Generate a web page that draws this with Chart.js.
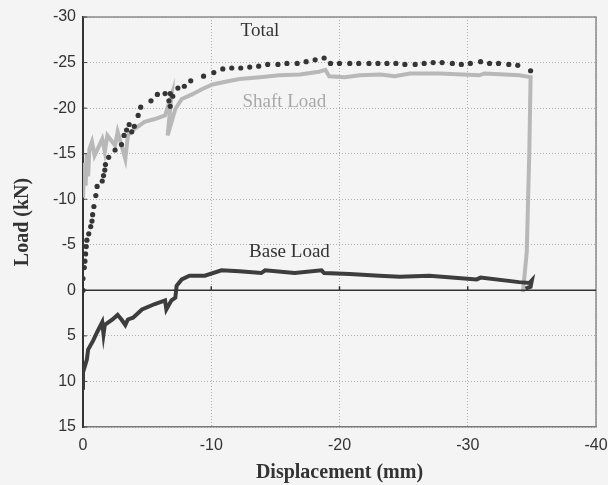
<!DOCTYPE html>
<html lang="en">
<head>
<meta charset="utf-8">
<title>Load vs displacement</title>
<script src="https://cdn.jsdelivr.net/npm/chart.js@4"></script>
<style>
  html, body { margin: 0; padding: 0; background: #f4f4f4; }
  #wrap { width: 608px; height: 485px; }
</style>
</head>
<body>
<div id="wrap"><canvas id="chartLoad"></canvas></div>
<script>
// displacement (mm) / load (kN)
const totalX = [0, 0, -0.1, -0.15, -0.2, -0.25, -0.3, -0.45, -0.6, -0.7, -0.75, -0.85, -1.0, -1.1, -1.5, -1.6, -1.7, -1.75, -2.0, -2.5,
  -3.0, -3.2, -3.4, -3.6, -3.8, -4.0, -4.3, -4.5, -5.3, -5.8, -6.4, -6.8, -6.7, -6.8, -7.0, -7.4, -7.9, -8.4, -9.4, -10.2,
  -10.9, -11.6, -12.3, -13.0, -13.7, -14.4, -15.2, -15.9, -16.7, -17.4, -18.1, -18.8, -19.3, -20.0, -20.8, -21.5, -22.3, -23.0, -23.7, -24.4,
  -25.1, -25.9, -26.6, -27.3, -28.0, -28.8, -29.5, -30.2, -31.0, -31.7, -32.4, -33.2, -33.9, -34.9];
const totalY = [0, -1.3, -2.5, -3.2, -4.0, -4.8, -5.5, -6.2, -7.0, -7.6, -8.3, -9.2, -10.4, -11.4, -12.0, -12.6, -13.2, -13.8, -14.6, -15.4,
  -16.0, -17.0, -17.6, -18.2, -17.4, -18.0, -19.2, -20.1, -20.8, -21.5, -21.6, -21.6, -20.8, -20.2, -21.3, -22.2, -22.4, -23.0, -23.5, -23.9,
  -24.3, -24.4, -24.4, -24.5, -24.6, -24.8, -24.8, -24.9, -24.9, -25.1, -25.3, -25.5, -24.9, -24.9, -24.9, -24.9, -24.9, -24.9, -24.9, -24.9,
  -24.8, -24.8, -24.9, -25.0, -25.0, -24.9, -24.8, -24.9, -25.1, -24.9, -24.9, -24.8, -24.7, -24.1];

const shaftX = [0, -0.1, -0.2, -0.3, -0.4, -0.5, -0.7, -0.9, -1.5, -1.7, -1.9, -2.5, -2.7, -3.3, -3.5, -4.0, -4.8, -5.6, -6.4, -6.9,
  -6.6, -7.2, -7.7, -8.5, -9.3, -10.1, -11.1, -12.2, -13.8, -15.3, -16.9, -18.4, -18.9, -19.2, -20.4, -21.6, -23.2, -24.3, -25.5, -27.8,
  -30.9, -31.3, -34.0, -34.9, -34.8, -34.6, -34.3];
const shaftY = [-10.2, -14.0, -11.5, -15.0, -12.5, -15.5, -16.3, -14.8, -16.6, -15.2, -17.0, -15.9, -17.4, -14.4, -17.0, -17.7, -18.5, -18.8, -19.2, -21.4,
  -17.0, -19.9, -21.0, -21.5, -22.1, -22.6, -22.9, -23.2, -23.4, -23.6, -23.7, -24.0, -24.2, -23.5, -23.4, -23.6, -23.7, -23.5, -23.8, -23.8,
  -23.6, -23.8, -23.6, -23.4, -15.2, -4.2, 0.2];

const baseX = [0, 0, -0.3, -0.4, -0.8, -1.1, -1.5, -1.6, -1.7, -2.3, -2.7, -3.0, -3.3, -3.5, -3.9, -4.6, -5.6, -6.4, -6.5, -6.9,
  -7.2, -7.3, -7.7, -8.3, -9.5, -10.8, -12.2, -13.9, -14.2, -16.5, -18.6, -18.8, -20.8, -23.1, -24.7, -27.0, -30.7, -31.0, -34.0, -34.8,
  -35.0, -34.9, -34.5];
const baseY = [10.9, 9.0, 7.6, 6.5, 5.5, 4.6, 3.5, 4.8, 3.8, 3.2, 2.7, 3.2, 3.8, 3.2, 3.0, 2.1, 1.5, 1.1, 2.1, 1.1,
  0.8, -0.5, -1.2, -1.6, -1.6, -2.2, -2.1, -1.9, -2.2, -1.9, -2.2, -1.9, -1.8, -1.6, -1.5, -1.6, -1.2, -1.4, -0.9, -0.8,
  -1.1, -0.4, -0.2];

const xTicks = [0, -10, -20, -30, -40];
const yTicks = [-30, -25, -20, -15, -10, -5, 0, 5, 10, 15];

// curve labels, placed in data units
const curveNames = ['Total', 'Shaft Load', 'Base Load'];
const nameX = [-13.8, -15.7, -16.1];
const nameY = [-28.5, -20.7, -4.2];
const nameColors = ['#333333', '#a8a8a8', '#333333'];

function pts(xs, ys) {
  return xs.map(function (x, i) { return { x: x, y: ys[i] }; });
}

// frame (top/right), inner y ticks, zero line with its ticks, curve names
const extras = {
  id: 'extras',
  afterDatasetsDraw(chart) {
    const ctx = chart.ctx, a = chart.chartArea;
    const xs = chart.scales.x, ys = chart.scales.y;
    ctx.save();
    ctx.strokeStyle = '#8a8a8a';
    ctx.lineWidth = 1.5;
    ctx.beginPath();
    ctx.moveTo(a.left, a.top); ctx.lineTo(a.right, a.top); ctx.lineTo(a.right, a.bottom);
    ctx.stroke();

    ctx.strokeStyle = '#444';
    ctx.lineWidth = 1;
    ctx.beginPath();
    yTicks.forEach(function (t) {
      const py = ys.getPixelForValue(t);
      ctx.moveTo(a.left, py); ctx.lineTo(a.left + 4, py);
    });
    ctx.stroke();

    const y0 = ys.getPixelForValue(0);
    ctx.strokeStyle = '#333';
    ctx.lineWidth = 1.5;
    ctx.beginPath();
    ctx.moveTo(a.left, y0); ctx.lineTo(a.right, y0);
    xTicks.forEach(function (t) {
      if (t === 0 || t === -40) return;
      const px = xs.getPixelForValue(t);
      ctx.moveTo(px, y0); ctx.lineTo(px, y0 - 4);
    });
    ctx.stroke();

    ctx.font = '19px "Liberation Serif", "Times New Roman", serif';
    ctx.textAlign = 'center';
    ctx.textBaseline = 'middle';
    curveNames.forEach(function (n, i) {
      ctx.fillStyle = nameColors[i];
      ctx.fillText(n, xs.getPixelForValue(nameX[i]), ys.getPixelForValue(nameY[i]));
    });
    ctx.restore();
  }
};

const bg = {
  id: 'bg',
  beforeDraw(chart) {
    const ctx = chart.ctx;
    ctx.save();
    ctx.fillStyle = '#f4f4f4';
    ctx.fillRect(0, 0, chart.width, chart.height);
    ctx.restore();
  }
};

const tickFont = { family: '"Liberation Sans", Arial, sans-serif', size: 16 };
const titleFont = { family: '"Liberation Serif", "Times New Roman", serif', size: 20, weight: 'bold' };

new Chart(document.getElementById('chartLoad'), {
  type: 'scatter',
  data: {
    datasets: [{
      label: 'Total',
      data: pts(totalX, totalY),
      showLine: false,
      pointRadius: 2.6,
      pointBackgroundColor: '#353535',
      pointBorderWidth: 0
    }, {
      label: 'Base Load',
      data: pts(baseX, baseY),
      showLine: true,
      borderColor: '#3d3d3d',
      borderWidth: 4,
      pointRadius: 0,
      tension: 0
    }, {
      label: 'Shaft Load',
      data: pts(shaftX, shaftY),
      showLine: true,
      borderColor: '#b8b8b8',
      borderWidth: 4,
      pointRadius: 0,
      tension: 0
    }]
  },
  options: {
    responsive: true,
    maintainAspectRatio: false,
    animation: false,
    layout: { padding: { left: 0, top: 17, right: 12, bottom: 0 } },
    plugins: {
      legend: { display: false },
      tooltip: { enabled: false }
    },
    scales: {
      x: {
        type: 'linear',
        min: -40, max: 0,
        reverse: true,
        afterBuildTicks: function (s) { s.ticks = xTicks.map(function (v) { return { value: v }; }); },
        afterFit: function (s) { s.height = 58; s.paddingLeft = 0; s.paddingRight = 0; },
        ticks: { font: tickFont, color: '#333', padding: 9 },
        grid: { color: '#b0b0b0', lineWidth: 1, drawTicks: false },
        border: { display: true, color: '#7a7a7a', width: 1.5, dash: [1, 2] },
        title: { display: true, text: 'Displacement (mm)', font: titleFont, color: '#333', padding: { top: 4, bottom: 0 } }
      },
      y: {
        type: 'linear',
        min: -30, max: 15,
        reverse: true,
        afterBuildTicks: function (s) { s.ticks = yTicks.map(function (v) { return { value: v }; }); },
        afterFit: function (s) { s.width = 83; s.paddingTop = 0; s.paddingBottom = 0; },
        ticks: { font: tickFont, color: '#333', padding: 7 },
        grid: { color: '#b0b0b0', lineWidth: 1, drawTicks: false },
        border: { display: true, color: '#333', width: 2, dash: [1, 2] },
        title: { display: true, text: 'Load (kN)', font: titleFont, color: '#333', padding: { top: 11, bottom: 0 } }
      }
    }
  },
  plugins: [bg, extras]
});
</script>
</body>
</html>
